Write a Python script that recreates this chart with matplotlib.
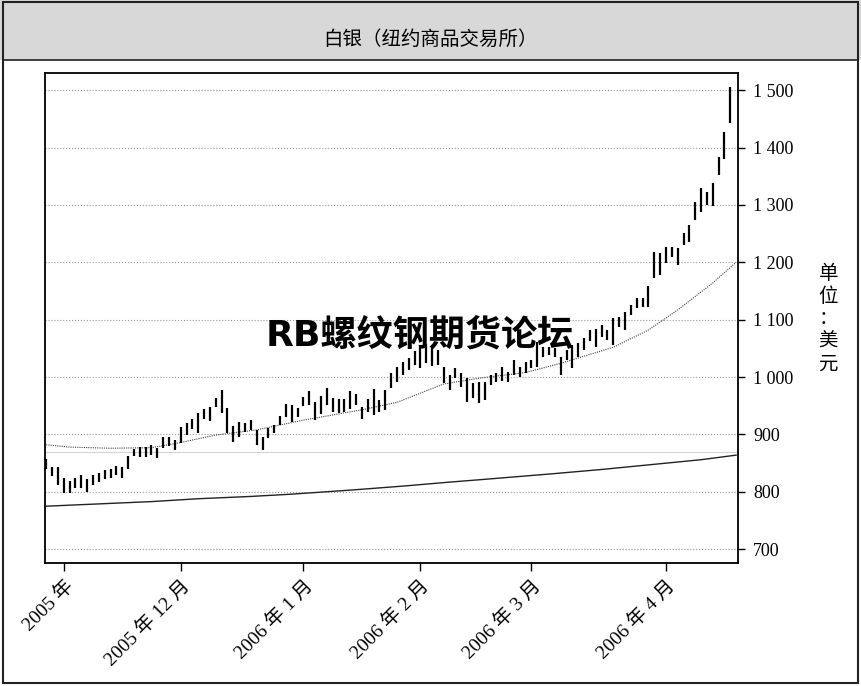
import matplotlib
matplotlib.use("Agg")
import matplotlib.pyplot as plt
from matplotlib.patches import Rectangle

plt.rcParams['font.family'] = ['Liberation Serif', 'Noto Sans CJK SC', 'DejaVu Sans']

# 日线高低价（美分/盎司），从左到右
highs = [857, 843, 843, 824, 819, 824, 829, 822, 829, 833,
         838, 840, 845, 843, 862, 875, 878, 878, 882, 876,
         895, 895, 890, 913, 920, 927, 937, 944, 948, 963,
         977, 946, 915, 922, 920, 925, 908, 895, 911, 916,
         932, 953, 951, 946, 965, 976, 957, 967, 981, 963,
         962, 962, 976, 970, 948, 962, 979, 960, 977, 1007,
         1017, 1026, 1033, 1045, 1055, 1058, 1052, 1048, 1017, 1003,
         1016, 1008, 998, 990, 991, 991, 1003, 1007, 1017, 1009,
         1030, 1017, 1026, 1030, 1061, 1052, 1052, 1050, 1035, 1047,
         1056, 1059, 1068, 1082, 1084, 1091, 1082, 1103, 1105, 1113,
         1125, 1138, 1138, 1159, 1218, 1216, 1227, 1227, 1225, 1251,
         1265, 1305, 1329, 1322, 1338, 1383, 1427, 1505]
lows = [840, 827, 812, 798, 798, 807, 807, 800, 812, 817,
        822, 824, 829, 824, 840, 862, 861, 861, 864, 859,
        876, 880, 873, 885, 899, 909, 902, 927, 923, 948,
        937, 902, 887, 896, 904, 908, 882, 873, 894, 902,
        916, 930, 922, 930, 949, 951, 925, 936, 951, 939,
        937, 939, 944, 951, 927, 939, 934, 939, 943, 981,
        991, 1003, 1012, 1021, 1016, 1024, 1019, 1021, 989, 977,
        998, 982, 956, 963, 955, 960, 986, 991, 994, 991,
        1003, 1000, 1007, 1016, 1017, 1035, 1038, 1035, 1003, 1030,
        1016, 1035, 1047, 1063, 1052, 1070, 1064, 1056, 1087, 1082,
        1108, 1120, 1122, 1122, 1172, 1178, 1199, 1209, 1195, 1230,
        1235, 1274, 1287, 1300, 1298, 1352, 1380, 1442]

# 均线读数（按K线序号）
ma_short_idx = [0, 4, 11, 18, 23, 29, 36, 44, 54, 60, 68, 74, 82, 88, 97, 103, 108, 114, 118]
ma_short_val = [882, 878, 876, 877, 886, 899, 908, 925, 943, 956, 988, 998, 1008, 1024, 1052, 1082, 1117, 1164, 1200]
ma_long_idx = [0, 9, 18, 26, 35, 42, 52, 61, 69, 74, 86, 95, 103, 112, 118]
ma_long_val = [775, 779, 783, 788, 792, 796, 803, 810, 817, 821, 831, 839, 847, 856, 864]
support_level = 870

month_bar = [3, 23, 44, 64, 83, 106]
month_labels = ['2005 年', '2005 年 12 月', '2006 年 1 月', '2006 年 2 月', '2006 年 3 月', '2006 年 4 月']
y_ticks = [700, 800, 900, 1000, 1100, 1200, 1300, 1400, 1500]

fig = plt.figure(figsize=(8.61, 6.86), dpi=100)

# 外框和标题栏
fig.patches.append(Rectangle((0, 0.9125), 1, 0.0875, transform=fig.transFigure,
                             facecolor='#d8d8d8', edgecolor='none', zorder=0))
fig.patches.append(Rectangle((0.003, 0.004), 0.994, 0.993, transform=fig.transFigure,
                             facecolor='none', edgecolor='#222222', lw=1.5, zorder=5))
fig.add_artist(plt.Line2D([0.003, 0.997], [0.9125, 0.9125], transform=fig.transFigure,
                          color='#222222', lw=1.2))
fig.text(0.5, 0.942, '白银（纽约商品交易所）', ha='center', va='center', fontsize=14,
         family=['Noto Sans CJK SC'])

ax = fig.add_axes([0.0523, 0.1793, 0.8047, 0.7143])
x = list(range(len(highs)))
ax.vlines(x, lows, highs, color='black', lw=1.6, zorder=3)
ax.plot(ma_short_idx, ma_short_val, color='#444444', lw=0.8, ls=(0, (1, 1)), zorder=2)
ax.plot(ma_long_idx, ma_long_val, color='#222222', lw=1.0, zorder=2)
ax.axhline(support_level, color='#d4d4d4', lw=0.8, zorder=1)

ax.set_xlim(-0.2, 118.3)
ax.set_ylim(676, 1530)
ax.set_yticks(y_ticks)
ax.set_yticklabels([f"{v:,}".replace(",", " ") for v in y_ticks], fontsize=13)
ax.yaxis.tick_right()
ax.tick_params(axis='y', direction='out', length=5, width=1, pad=6)
ax.yaxis.grid(True, ls=':', color='#999999', lw=0.8)
ax.set_axisbelow(True)

ax.set_xticks(month_bar)
ax.set_xticklabels(month_labels, rotation=45, ha='right', va='top',
                   rotation_mode='anchor', fontsize=14)
ax.tick_params(axis='x', direction='out', length=6, width=1, pad=4)
for s in ax.spines.values():
    s.set_linewidth(1.3)

fig.text(0.962, 0.535, '单\n位\n：\n美\n元', ha='center', va='center',
         fontsize=14, linespacing=1.1, family=['Noto Sans CJK SC'])

# 水印
fig.text(0.487, 0.512, 'RB螺纹钢期货论坛', ha='center', va='center', fontsize=26,
         fontweight='bold', family=['DejaVu Sans', 'Noto Sans CJK SC'], zorder=10)

fig.savefig('out.png', dpi=100)
